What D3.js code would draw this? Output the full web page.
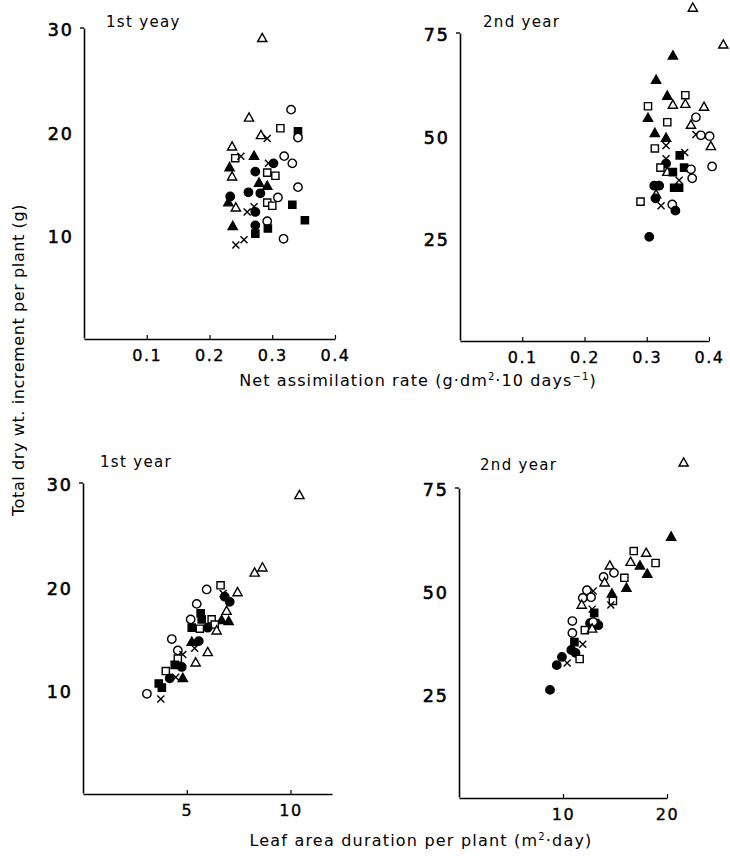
<!DOCTYPE html>
<html>
<head>
<meta charset="utf-8">
<script src="https://cdn.jsdelivr.net/npm/d3@7"></script>
<style>
  html, body { margin: 0; padding: 0; background: #fff; }
  svg text { font-family: "DejaVu Sans", sans-serif; fill: #000; }
</style>
</head>
<body>
<svg id="chart" width="730" height="856"></svg>
<script>
// marker keys: oc/fc = open/filled circle, ot/ft = triangle, os/fs = square, x = cross

// top-left: net assimilation rate vs dry wt increment, 1st year
const narYear1 = [
  ['ot', .284, 29.0], ['oc', .330, 22.1], ['ot', .263, 21.3], ['os', .313, 20.3],
  ['fs', .341, 20.0], ['oc', .341, 19.4], ['ot', .282, 19.6], ['x', .292, 19.3],
  ['ot', .236, 18.5], ['os', .241, 17.4], ['x', .250, 17.6], ['ft', .271, 17.6],
  ['oc', .319, 17.6], ['oc', .332, 16.9], ['x', .294, 16.9], ['fc', .302, 16.9],
  ['ft', .232, 16.5], ['fc', .273, 16.1], ['os', .292, 16.0], ['os', .305, 15.7],
  ['ot', .236, 15.6], ['ft', .279, 15.0], ['ft', .292, 14.7], ['oc', .341, 14.6],
  ['fc', .262, 14.1], ['fc', .281, 14.0], ['oc', .309, 13.6], ['fc', .233, 13.7],
  ['ft', .230, 13.1], ['os', .292, 13.1], ['os', .300, 12.8], ['fs', .332, 12.9],
  ['ot', .242, 12.6], ['x', .260, 12.2], ['x', .271, 12.7], ['fc', .273, 12.2],
  ['oc', .292, 11.3], ['fs', .352, 11.4], ['ft', .237, 10.8], ['fc', .273, 10.9],
  ['fs', .293, 10.6], ['fs', .273, 10.1], ['oc', .318, 9.6], ['x', .242, 9.0],
  ['x', .255, 9.5]
];

// top-right: net assimilation rate, 2nd year
const narYear2 = [
  ['ot', .374, 81.1], ['ot', .423, 72.1], ['ft', .342, 69.4], ['ft', .315, 63.5],
  ['ft', .333, 59.6], ['os', .362, 59.8], ['ot', .342, 57.4], ['ot', .362, 57.6],
  ['os', .302, 57.1], ['ot', .392, 56.9], ['ft', .302, 54.2], ['oc', .379, 54.4],
  ['os', .333, 53.2], ['ot', .371, 52.5], ['ft', .313, 50.5], ['x', .379, 50.2],
  ['oc', .387, 50.0], ['oc', .401, 49.8], ['ft', .331, 49.3], ['ot', .403, 47.3],
  ['x', .331, 47.5], ['os', .313, 46.8], ['fs', .353, 45.1], ['x', .361, 45.8],
  ['x', .331, 44.3], ['fc', .331, 43.1], ['os', .322, 42.1], ['oc', .405, 42.4],
  ['fs', .360, 42.1], ['oc', .371, 41.7], ['ot', .333, 41.0], ['fs', .342, 41.0],
  ['oc', .373, 39.5], ['x', .352, 39.0], ['fc', .312, 37.7], ['fc', .320, 37.7],
  ['fs', .352, 37.2], ['fs', .344, 37.2], ['ot', .315, 35.5], ['fc', .314, 34.6],
  ['os', .290, 33.8], ['x', .323, 32.8], ['oc', .341, 33.1], ['fc', .346, 31.6],
  ['fc', .304, 25.2]
];

// bottom-left: leaf area duration, 1st year
const ladYear1 = [
  ['ot', 10.43, 28.8], ['ot', 8.65, 21.8], ['ot', 8.27, 21.3], ['oc', 5.96, 19.7],
  ['os', 6.63, 20.1], ['ot', 7.45, 19.4], ['x', 6.75, 19.3], ['fc', 6.83, 19.0],
  ['fc', 7.07, 18.5], ['oc', 5.48, 18.3], ['fs', 5.67, 17.4], ['ot', 6.92, 17.6],
  ['fs', 5.72, 16.8], ['oc', 5.19, 16.8], ['ft', 6.68, 16.7], ['ft', 7.02, 16.6],
  ['os', 6.20, 16.8], ['os', 6.35, 16.3], ['fc', 6.01, 16.0], ['os', 5.63, 15.9],
  ['fs', 5.24, 16.0], ['ot', 6.44, 15.7], ['oc', 4.28, 14.9], ['ft', 5.24, 14.6],
  ['fc', 5.58, 14.7], ['x', 5.38, 14.0], ['oc', 4.57, 13.8], ['ot', 6.01, 13.6],
  ['ot', 5.43, 12.6], ['x', 4.81, 13.4], ['os', 4.57, 13.0], ['fs', 4.42, 12.4],
  ['fc', 4.76, 12.2], ['os', 3.99, 11.8], ['fc', 4.18, 11.1], ['x', 4.47, 11.2],
  ['ft', 4.81, 11.1], ['fs', 3.65, 10.6], ['fs', 3.80, 10.2], ['oc', 3.08, 9.6],
  ['x', 3.75, 9.1]
];

// bottom-right: leaf area duration, 2nd year
const ladYear2 = [
  ['ot', 21.6, 81.1], ['ft', 20.4, 63.1], ['os', 16.8, 59.7], ['ot', 18.0, 59.2],
  ['os', 18.9, 56.8], ['ot', 16.5, 57.0], ['ft', 17.4, 56.1], ['ft', 18.1, 54.1],
  ['ot', 14.5, 56.1], ['oc', 14.9, 54.4], ['oc', 13.9, 53.4], ['os', 15.9, 53.2],
  ['ot', 14.0, 52.0], ['ft', 16.1, 50.7], ['oc', 12.3, 50.2], ['x', 12.9, 50.0],
  ['oc', 12.7, 48.5], ['ft', 14.7, 49.3], ['oc', 11.9, 48.3], ['os', 14.8, 47.6],
  ['x', 14.6, 46.6], ['ot', 11.8, 46.6], ['x', 12.8, 45.6], ['fs', 13.0, 44.7],
  ['oc', 10.9, 42.7], ['fc', 12.6, 42.2], ['fs', 13.1, 42.2], ['fc', 13.4, 41.7],
  ['oc', 12.9, 42.5], ['os', 12.1, 40.5], ['ot', 12.8, 40.8], ['oc', 10.9, 39.8],
  ['fs', 11.1, 37.6], ['x', 11.9, 37.1], ['fc', 10.8, 35.7], ['fc', 11.2, 35.0],
  ['os', 11.6, 33.5], ['fc', 9.9, 34.0], ['x', 10.4, 32.5], ['fc', 9.4, 32.0],
  ['fc', 8.75, 26.0]
];

const yTicksYear1 = [10, 20, 30];
const yTicksYear2 = [25, 50, 75];
const narTicks = [0.1, 0.2, 0.3, 0.4];
const ladTicksYear1 = [5, 10];
const ladTicksYear2 = [10, 20];

const panels = [
  { title: '1st yeay', data: narYear1, xDomain: [0, 0.4], xRange: [84, 335], yDomain: [0, 30], yRange: [338, 28],
    xTicks: narTicks, yTicks: yTicksYear1, fmt: d3.format('.1f'), titleDx: 22, titleDy: -1 },
  { title: '2nd year', data: narYear2, xDomain: [0, 0.4], xRange: [460, 709], yDomain: [0, 75], yRange: [340, 33],
    xTicks: narTicks, yTicks: yTicksYear2, fmt: d3.format('.1f'), titleDx: 23, titleDy: -6 },
  { title: '1st year', data: ladYear1, xDomain: [0, 12], xRange: [83, 332], yDomain: [0, 30], yRange: [793, 483],
    xTicks: ladTicksYear1, yTicks: yTicksYear1, fmt: d3.format('d'), titleDx: 17, titleDy: -16 },
  { title: '2nd year', data: ladYear2, xDomain: [0, 20], xRange: [459, 667], yDomain: [0, 75], yRange: [797, 488],
    xTicks: ladTicksYear2, yTicks: yTicksYear2, fmt: d3.format('d'), titleDx: 21, titleDy: -18 }
];

const svg = d3.select('#chart');

function markerPath(type) {
  if (type === 'oc' || type === 'fc') {
    return 'M4.2,0A4.2,4.2 0 1,1 -4.2,0A4.2,4.2 0 1,1 4.2,0Z';
  }
  if (type === 'ot' || type === 'ft') {
    return 'M0,-5L4.6,3.2L-4.6,3.2Z';
  }
  if (type === 'os' || type === 'fs') {
    return 'M-3.6,-3.6H3.6V3.6H-3.6Z';
  }
  return 'M-3.5,-3.5L3.5,3.5M3.5,-3.5L-3.5,3.5';
}

panels.forEach(p => {
  const x = d3.scaleLinear().domain(p.xDomain).range(p.xRange);
  const y = d3.scaleLinear().domain(p.yDomain).range(p.yRange);
  const g = svg.append('g');

  const xAxis = g.append('g')
    .attr('transform', `translate(0,${y(0) + 1})`)
    .call(d3.axisBottom(x).tickValues(p.xTicks).tickFormat(p.fmt)
      .tickSizeInner(-4).tickSizeOuter(0).tickPadding(11));

  const yAxis = g.append('g')
    .attr('transform', `translate(${x(0)},0)`)
    .call(d3.axisLeft(y).tickValues(p.yTicks).tickSize(0).tickPadding(10));

  [xAxis, yAxis].forEach(a => {
    a.select('.domain').attr('stroke', '#000').attr('stroke-width', 1.6);
    a.selectAll('.tick line').attr('stroke', '#000').attr('stroke-width', 1.2);
  });

  xAxis.selectAll('.tick text')
    .attr('font-size', 16).attr('letter-spacing', 1.5).attr('fill', '#000')
    .attr('stroke', '#000').attr('stroke-width', 0.35);
  yAxis.selectAll('.tick text')
    .attr('font-size', 17.5).attr('letter-spacing', 2).attr('fill', '#000')
    .attr('stroke', '#000').attr('stroke-width', 0.6)
    .attr('dy', '0.45em');

  // small tick at the top of the y axis
  const yTop = d3.max(p.yTicks);
  g.append('line')
    .attr('x1', x(0) - 4).attr('x2', x(0))
    .attr('y1', y(yTop)).attr('y2', y(yTop))
    .attr('stroke', '#000').attr('stroke-width', 1.4);

  g.append('text')
    .attr('x', x(0) + p.titleDx)
    .attr('y', y(yTop) + p.titleDy)
    .attr('font-size', 15)
    .attr('letter-spacing', 1.3)
    .text(p.title);

  g.append('g')
    .selectAll('path')
    .data(p.data)
    .enter()
    .append('path')
    .attr('transform', d => `translate(${x(d[1])},${y(d[2])})`)
    .attr('d', d => markerPath(d[0]))
    .attr('fill', d => d[0].startsWith('f') ? '#000' : (d[0] === 'x' ? 'none' : '#fff'))
    .attr('stroke', '#000')
    .attr('stroke-width', 1.4);
});

// axis titles
const topTitle = svg.append('text')
  .attr('x', 418).attr('y', 386)
  .attr('text-anchor', 'middle')
  .attr('font-size', 16)
  .attr('letter-spacing', 1.1);
topTitle.append('tspan').text('Net assimilation rate (g\u00b7dm');
topTitle.append('tspan').attr('font-size', 10).attr('dy', -6).text('2');
topTitle.append('tspan').attr('dy', 6).text('\u00b710 days');
topTitle.append('tspan').attr('font-size', 10).attr('dy', -6).text('\u22121');
topTitle.append('tspan').attr('dy', 6).text(')');

const bottomTitle = svg.append('text')
  .attr('x', 421).attr('y', 846)
  .attr('text-anchor', 'middle')
  .attr('font-size', 16)
  .attr('letter-spacing', 1.2);
bottomTitle.append('tspan').text('Leaf area duration per plant (m');
bottomTitle.append('tspan').attr('font-size', 10).attr('dy', -6).text('2');
bottomTitle.append('tspan').attr('dy', 6).text('\u00b7day)');

svg.append('text')
  .attr('transform', 'translate(24,360) rotate(-90)')
  .attr('text-anchor', 'middle')
  .attr('font-size', 16)
  .attr('letter-spacing', 0.6)
  .text('Total dry wt. increment per plant (g)');
</script>
</body>
</html>
